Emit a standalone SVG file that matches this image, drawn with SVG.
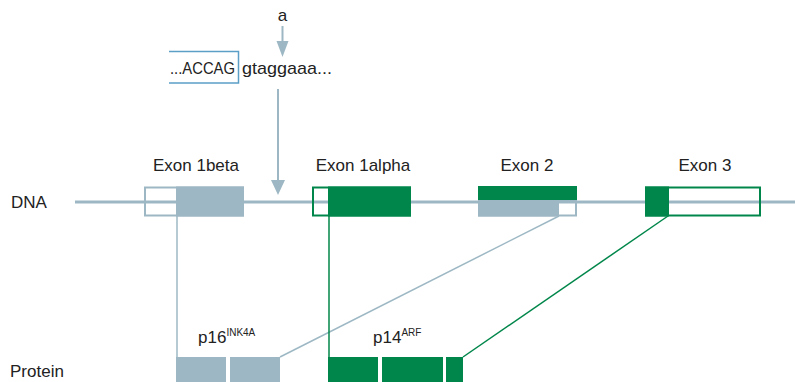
<svg xmlns="http://www.w3.org/2000/svg" width="795" height="382" viewBox="0 0 795 382">
<defs>
<style>
text{font-family:"Liberation Sans",Arial,sans-serif;fill:#222}
.lbl{font-size:17px}
.g{fill:#00864a}
.b{fill:#9db8c4}
.gs{stroke:#00864a;fill:none}
.bs{stroke:#9db8c4;fill:none}
</style>
</defs>
<rect width="795" height="382" fill="#fff"/>
<g id="connectors">
<line x1="75" y1="202" x2="795" y2="202" class="bs" stroke-width="3"/>
<line x1="282.5" y1="26" x2="282.5" y2="42" class="bs" stroke-width="2"/>
<polygon points="276.5,41 288.5,41 282.5,57" class="b"/>
<line x1="278" y1="89" x2="278" y2="182" class="bs" stroke-width="2"/>
<polygon points="271,180 285,180 278,195" class="b"/>
<line x1="177" y1="216" x2="177" y2="357" class="bs" stroke-width="1.5"/>
<line x1="559" y1="216" x2="280" y2="357" class="bs" stroke-width="1.5"/>
<line x1="329" y1="216" x2="329" y2="357" class="gs" stroke-width="1.5"/>
<line x1="668" y1="216" x2="463" y2="357" class="gs" stroke-width="1.5"/>
</g>
<g id="sequence">
<text x="282.5" y="21" class="lbl" text-anchor="middle">a</text>
<path d="M169,51.5 H238.5 V83 H169" fill="none" stroke="#5b9fc6" stroke-width="1.5"/>
<text x="170" y="74" class="lbl" textLength="65" lengthAdjust="spacingAndGlyphs">...ACCAG</text>
<text x="242" y="74" class="lbl" textLength="90" lengthAdjust="spacingAndGlyphs">gtaggaaa...</text>
</g>
<g id="dna-label"><text x="11" y="208" class="lbl">DNA</text></g>
<g id="protein-label"><text x="10" y="377" class="lbl" font-size="18">Protein</text></g>
<g id="exon1beta">
<text x="196" y="171" class="lbl" text-anchor="middle">Exon 1beta</text>
<rect x="145" y="187.5" width="98" height="28" fill="#fff" class="bs" stroke-width="2"/>
<rect x="176" y="186.5" width="68" height="30" class="b"/>
</g>
<g id="exon1alpha">
<text x="363" y="171" class="lbl" text-anchor="middle">Exon 1alpha</text>
<rect x="313" y="187.5" width="97" height="28" fill="#fff" class="gs" stroke-width="2"/>
<rect x="328" y="186.5" width="83" height="30" class="g"/>
</g>
<g id="exon2">
<text x="527" y="171" class="lbl" text-anchor="middle">Exon 2</text>
<rect x="478" y="186" width="99" height="16" class="g"/>
<rect x="479" y="201" width="97" height="14.5" fill="#fff" class="bs" stroke-width="2"/>
<rect x="478" y="201" width="81" height="15.5" class="b"/>
</g>
<g id="exon3">
<text x="705" y="171" class="lbl" text-anchor="middle">Exon 3</text>
<rect x="646" y="187.5" width="114" height="28" fill="#fff" class="gs" stroke-width="2"/>
<rect x="645" y="186.5" width="24" height="30" class="g"/>
</g>
<g id="p16">
<text x="198" y="343" class="lbl" font-size="18">p16<tspan font-size="10" dy="-7">INK4A</tspan></text>
<rect x="176" y="357" width="50" height="25" class="b"/>
<rect x="230" y="357" width="50" height="25" class="b"/>
</g>
<g id="p14">
<text x="373" y="343" class="lbl" font-size="18">p14<tspan font-size="10" dy="-7">ARF</tspan></text>
<rect x="328" y="357" width="50" height="25" class="g"/>
<rect x="382" y="357" width="61" height="25" class="g"/>
<rect x="446" y="357" width="17" height="25" class="g"/>
</g>
</svg>
